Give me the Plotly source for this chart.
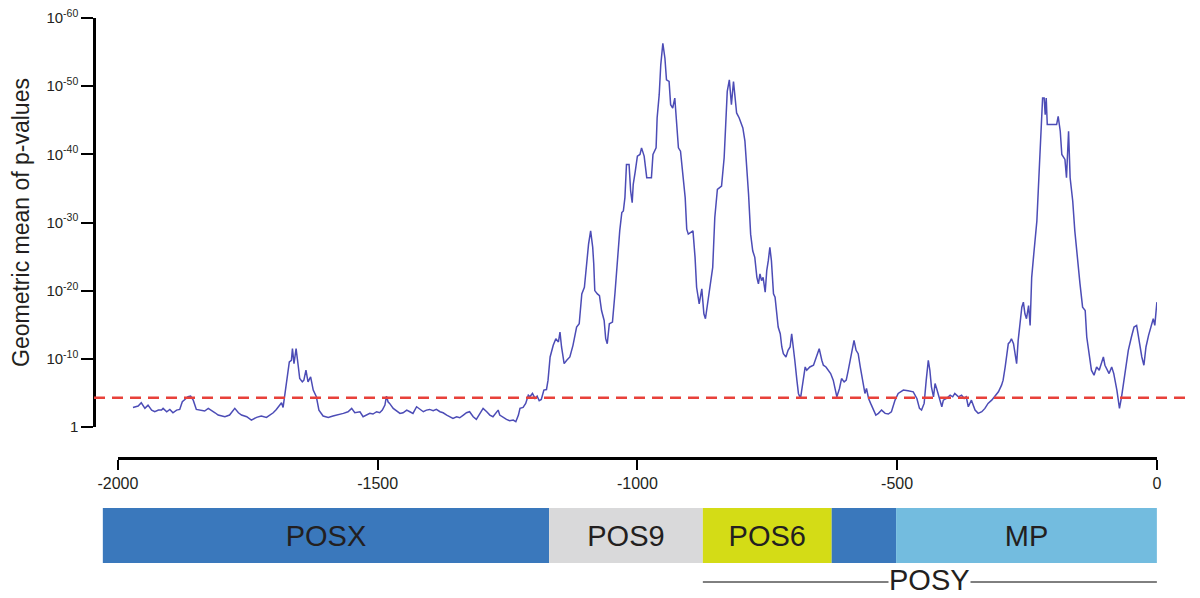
import plotly.graph_objects as go

# position along the sequence and -log10 of the geometric mean p-value
pos = [-1971, -1961, -1955, -1948, -1942, -1935, -1929, -1922, -1916, -1913, -1906, -1900, -1894, -1887, -1881,
       -1876, -1871, -1865, -1860, -1855, -1849, -1839, -1833, -1826, -1820, -1813, -1807, -1801, -1794, -1785,
       -1775, -1768, -1762, -1752, -1743, -1733, -1724, -1714, -1708, -1701, -1695, -1690, -1685, -1682, -1679,
       -1674, -1670, -1666, -1664, -1661, -1657, -1653, -1650, -1645, -1642, -1638, -1634, -1629, -1624, -1618,
       -1613, -1605, -1595, -1586, -1576, -1566, -1557, -1550, -1544, -1534,
       -1528, -1521, -1515, -1509, -1502, -1496, -1491, -1486, -1483, -1480, -1477, -1470, -1464, -1457, -1451,
       -1444, -1438, -1432, -1425, -1419, -1412, -1406, -1400, -1393, -1387, -1380, -1374, -1367, -1361, -1355,
       -1348, -1342, -1335, -1329, -1323, -1316, -1310, -1303, -1297, -1290, -1284, -1278, -1271, -1268, -1265,
       -1258, -1252, -1246, -1239, -1234, -1229, -1226, -1220, -1215, -1210, -1207, -1202, -1197, -1193, -1189,
       -1185, -1180, -1175, -1172,
       -1168, -1162, -1157, -1152, -1149, -1146, -1141, -1136, -1130, -1124, -1117, -1112, -1107, -1102, -1098,
       -1094, -1090, -1086, -1084, -1082, -1077, -1073, -1069, -1064, -1061, -1058, -1054, -1048, -1043, -1039,
       -1034, -1030, -1027, -1024, -1021, -1016, -1013, -1010, -1008, -1004, -1000, -995, -992, -987, -982,
       -973, -970, -964, -962, -958, -955, -951, -947, -944, -939, -936, -932, -928, -924, -921,
       -917, -912, -908, -905, -902, -893, -889, -886, -881, -876, -872, -869, -865, -860, -855,
       -851, -846, -838, -833, -830, -827, -823, -819, -815, -809, -804,
       -797, -793, -790, -786, -782, -778, -774, -770, -767, -764, -761, -758, -754, -751, -748,
       -745, -742, -738, -735, -732, -729, -725, -722, -719, -714, -710, -706, -703, -700, -697,
       -693, -690, -686, -682, -677, -674, -668, -661, -658, -654, -650, -645, -642, -637, -633,
       -628, -623, -616, -611, -607, -602, -598, -594, -591, -586, -583, -579, -575, -571, -566,
       -562, -559, -555, -551, -546, -541, -536, -530, -523, -517, -511, -504, -498,
       -488, -479, -469, -462, -457, -453, -448, -444, -440, -437, -434, -430, -427, -424, -419,
       -414, -411, -405, -398, -393, -389, -382, -376, -371, -367, -363, -357, -350, -344, -337,
       -331, -325, -318,
       -312, -305, -299, -296, -292, -289, -286, -283, -280, -276, -273, -270, -267, -263, -260,
       -257, -254, -251, -247, -244, -241, -237, -231, -226, -222, -220, -217, -215, -213, -211,
       -206, -193, -190, -186, -183, -177, -174, -170, -167, -162, -158, -153, -148, -143, -138,
       -135, -130, -126, -121, -116, -111, -106, -103, -100, -95, -92, -87, -83, -77, -72,
       -68, -61, -55, -49, -44, -39, -34, -29, -25, -21, -16, -12, -7, -4, -2, 0]

logp = [2.87, 3.07, 3.55, 2.73, 3.21, 2.48, 2.24, 2.48, 2.48, 2.73, 2.24, 2.58, 2.09, 2.48, 2.58,
        3.70, 4.04, 4.43, 4.53, 3.94, 2.58, 2.48, 2.34, 2.73, 2.48, 2.09, 1.75, 1.61, 1.51, 1.75,
        2.73, 2.09, 1.75, 1.51, 1.02, 1.41, 1.61, 1.41, 1.75, 2.09, 2.58, 3.07, 3.55, 2.87, 4.43,
        6.87, 9.54, 9.79, 11.49, 9.30, 11.49, 9.06, 7.11, 6.62, 6.87, 8.33, 6.62, 7.35, 5.41, 4.43,
        2.48, 1.61, 1.41, 1.61, 1.75, 2.00, 2.24, 2.73, 2.09, 2.24,
        1.51, 1.75, 2.00, 1.90, 2.24, 2.09, 2.48, 3.21, 4.53, 3.70, 3.46, 2.73, 2.39, 2.00, 2.09,
        2.48, 2.24, 2.00, 2.97, 2.58, 2.24, 2.48, 2.58, 2.39, 2.58, 2.24, 2.09, 1.75, 1.51, 1.27,
        1.51, 1.36, 1.75, 2.09, 2.24, 1.51, 1.12, 2.00, 2.73, 2.24, 1.75, 1.51, 2.24, 2.48, 1.75,
        1.36, 1.12, 0.92, 1.02, 0.78, 1.75, 2.73, 2.87, 3.46, 4.67, 4.43, 4.92, 4.19, 4.53, 3.85,
        4.04, 5.41, 5.50, 6.87,
        10.27, 11.98, 12.95, 12.47, 13.93, 11.74, 9.30, 9.79, 10.27, 11.98, 14.66, 15.15, 19.53, 20.50, 23.91,
        26.83, 28.78, 26.35, 23.91, 20.01, 19.53, 19.28, 17.09, 15.63, 12.95, 12.22, 15.15, 15.39, 19.77, 23.91,
        28.78, 31.46, 31.70, 33.65, 38.52, 38.52, 34.62, 32.92, 35.60, 37.55, 39.74, 39.98, 40.95, 39.74, 36.57,
        36.57, 39.98, 40.95, 45.34, 48.75, 53.13, 56.29, 54.10, 50.94, 50.69, 47.29, 46.80, 48.26, 44.36, 40.95,
        40.47, 37.06, 33.65, 29.02, 28.29, 28.78, 24.88, 20.50, 18.07, 20.26, 16.61, 15.88, 18.07, 20.50, 23.42,
        30.73, 34.87, 35.35, 39.49, 44.36, 49.23, 50.94, 47.29, 50.69, 46.07, 45.34,
        43.88, 41.93, 39.01, 34.14, 28.29, 25.86, 24.88, 21.96, 20.99, 22.45, 21.48, 21.96, 19.77, 22.94, 24.40,
        26.35, 24.40, 19.53, 19.04, 16.61, 14.66, 13.68, 11.74, 10.76, 10.27, 11.25, 11.74, 13.68, 11.25, 9.79,
        6.87, 4.92, 4.19, 6.38, 8.81, 8.33, 8.81, 9.06, 9.79, 10.76, 11.49, 9.79, 9.06, 8.81, 8.33,
        7.84, 6.87, 4.43, 5.65, 7.11, 6.62, 6.87, 8.33, 9.54, 11.98, 12.71, 11.25, 10.76, 8.81, 6.87,
        4.92, 5.65, 4.19, 3.46, 2.48, 1.75, 2.00, 2.48, 2.00, 1.90, 2.24, 3.94, 4.92,
        5.41, 5.31, 5.16, 4.19, 2.73, 2.48, 3.46, 6.87, 9.79, 8.33, 5.89, 4.43, 6.38, 5.65, 4.19,
        2.97, 3.94, 4.19, 4.67, 4.43, 4.92, 4.43, 4.67, 4.19, 4.43, 2.97, 3.94, 2.48, 2.00, 2.24,
        2.73, 3.46, 3.94,
        4.43, 5.16, 6.14, 6.87, 8.81, 10.27, 12.22, 12.47, 12.95, 12.22, 10.76, 9.30, 12.71, 15.15, 17.58,
        18.31, 16.61, 15.88, 17.82, 14.90, 21.96, 25.37, 30.24, 38.52, 44.85, 48.26, 48.26, 45.82, 48.26, 44.36,
        44.36, 44.36, 45.58, 43.39, 39.98, 39.25, 36.57, 43.39, 36.57, 33.16, 28.78, 24.40, 20.99, 17.58, 17.09,
        13.20, 10.76, 8.33, 7.60, 8.81, 8.33, 9.79, 10.27, 9.06, 8.33, 7.84, 8.81, 7.84, 5.41, 2.73,
        4.43, 7.84, 11.25, 13.20, 14.66, 14.90, 12.22, 10.27, 9.06, 11.74, 13.44, 14.66, 15.88, 14.90, 16.61, 18.31]

threshold = 4.3

ytick_vals = [0, 10, 20, 30, 40, 50, 60]
ytick_text = ['1', '10<sup>-10</sup>', '10<sup>-20</sup>', '10<sup>-30</sup>',
              '10<sup>-40</sup>', '10<sup>-50</sup>', '10<sup>-60</sup>']
xtick_vals = [-2000, -1500, -1000, -500, 0]
xtick_text = ['-2000', '-1500', '-1000', '-500', '0']

regions = ['POSX', 'POS9', 'POS6', '', 'MP']
region_start = [-2029, -1170, -874, -626, -502]
region_end = [-1170, -874, -626, -502, 0]
region_colors = ['#3a78bc', '#d9d9da', '#d4dc16', '#3a78bc', '#73bcdf']

posy_start, posy_end = -874, 0

W, H = 1200, 598
# the page puts the figure 8px in from the top-left corner
MT, MB, ML, MR = 8, 16, 86, 8


def py(pix):
    # pixel row on the page -> paper fraction
    return (H - 8 - pix) / (H - MT - MB)


x_lo, x_hi = -2046, 83
dom2 = [(-2000 - x_lo) / (x_hi - x_lo), (0 - x_lo) / (x_hi - x_lo)]

fig = go.Figure()

fig.add_trace(go.Scatter(x=pos, y=logp, mode='lines', xaxis='x2', yaxis='y',
                         line=dict(color='#4c4cb6', width=1.5), hoverinfo='skip'))

fig.add_trace(go.Bar(y=[0] * len(regions), x=[e - s for s, e in zip(region_start, region_end)],
                     base=region_start, orientation='h', width=1,
                     marker=dict(color=region_colors, line=dict(width=0)),
                     text=regions, textposition='inside', insidetextanchor='middle',
                     textangle=0,
                     textfont=dict(family='Arial', size=29, color='#231f20'),
                     xaxis='x', yaxis='y2', hoverinfo='skip'))

fig.add_shape(type='line', xref='paper', x0=0, x1=1.01, yref='y', y0=threshold, y1=threshold,
              line=dict(color='#e8413a', width=2.5, dash='11px,7px'))

fig.add_shape(type='line', xref='x', x0=posy_start, x1=posy_end, yref='paper', y0=py(582), y1=py(582),
              line=dict(color='black', width=1))
fig.add_annotation(x=(posy_start + posy_end) / 2, xref='x', y=py(580), yref='paper',
                   yanchor='middle', text='POSY',
                   showarrow=False, bgcolor='white', borderpad=0,
                   font=dict(family='Arial', size=29, color='#231f20'))

fig.update_layout(
    width=W, height=H,
    margin=dict(l=ML, r=MR, t=MT, b=MB, autoexpand=False),
    plot_bgcolor='white', paper_bgcolor='white',
    showlegend=False,
    font=dict(family='Arial', color='#231f20', size=15),
    xaxis=dict(domain=[0, 1], range=[x_lo, x_hi], visible=False, anchor='y2'),
    yaxis2=dict(domain=[py(563), py(508)], range=[-0.5, 0.5], visible=False, anchor='x'),
    xaxis2=dict(domain=dom2, range=[-2000, 0], anchor='free', position=py(458),
                tickvals=xtick_vals, ticktext=xtick_text, ticks='outside', ticklen=10, tickwidth=2,
                tickcolor='black', showline=True, linewidth=2.5, linecolor='black',
                showgrid=False, zeroline=False, tickfont=dict(size=16), ticklabeloverflow='allow'),
    yaxis=dict(domain=[py(427), py(18)], range=[0, 60], anchor='free', position=0,
               tickvals=ytick_vals, ticktext=ytick_text, ticks='outside', ticklen=12, tickwidth=2,
               tickcolor='black', showline=True, linewidth=2.5, linecolor='black',
               showgrid=False, zeroline=False, tickfont=dict(size=15), ticklabeloverflow='allow',
               title=dict(text='Geometric mean of p-values', font=dict(size=23), standoff=16)),
)

fig.write_html('out.html')
